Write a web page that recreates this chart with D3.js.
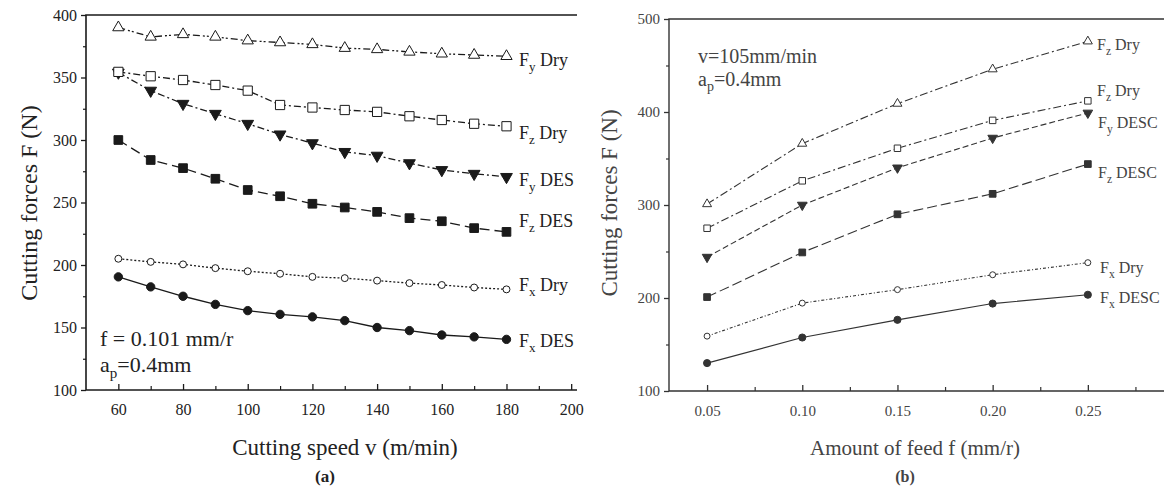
<!DOCTYPE html>
<html><head><meta charset="utf-8">
<script src="https://cdn.jsdelivr.net/npm/d3@7"></script>
<style>body{margin:0;background:#fff}svg{display:block}text{font-family:"Liberation Serif","Times New Roman",serif}</style>
</head><body>
<svg id="c" width="1174" height="493"></svg>
<script>
// ---------- Panel (a) data ----------
const speedA = [60,70,80,90,100,110,120,130,140,150,160,170,180];
const fyDryA = [390,382.5,384.5,382.5,379.5,378,376.5,373.5,372.5,370.5,369,368,367];
const fzDryA = [354.5,351,348,344,339.5,328,326,324,322.5,319,316,313,311];
const fyDesA = [354,339.5,329,321,313,304.5,297.5,290.5,287.5,281.5,276,273,270.5];
const fzDesA = [300,284,277.5,269,260,255,249,246,242.5,237.5,235,229.5,226.5];
const fxDryA = [205,202.5,200.5,197.5,195,193,190.5,189.5,187.5,185.5,184,182,180.5];
const fxDesA = [190.5,182.5,175,168.5,163.5,160.5,158.5,155.5,150,147.5,144,142.5,140.5];
const xTicksA = [60,80,100,120,140,160,180,200];
const yTicksA = [100,150,200,250,300,350,400];

// ---------- Panel (b) data ----------
const feedB = [0.05,0.10,0.15,0.20,0.25];
const fzDryB = [301,366,409,446,476];
const fzDry2B = [275,326,361,391,412];
const fyDesB = [244,300,340,372,399];
const fzDesB = [201,249,290,312,344];
const fxDryB = [159,194.5,209,225,238];
const fxDesB = [130,157.5,176.5,194,203.5];
const xTicksB = [0.05,0.10,0.15,0.20,0.25];
const yTicksB = [100,200,300,400,500];

const svg = d3.select("#c");
svg.append("rect").attr("width",1174).attr("height",493).attr("fill","#fff");

function panel(cfg){
  const g = svg.append("g");
  const x = d3.scaleLinear().domain(cfg.xd).range(cfg.xr);
  const y = d3.scaleLinear().domain(cfg.yd).range(cfg.yr);
  const col = cfg.col, tcol = cfg.tcol;
  const xa = g.append("g").attr("transform",`translate(0,${cfg.yr[0]})`)
    .call(d3.axisBottom(x).tickValues(cfg.xt).tickSize(-6).tickPadding(14).tickFormat(cfg.xf));
  xa.select(".domain").remove();
  xa.selectAll("line").attr("stroke",col).attr("stroke-width",1.3);
  xa.selectAll("text").attr("fill",tcol).attr("font-size",cfg.tfs).attr("font-family","Liberation Serif");
  const xm = g.append("g").attr("transform",`translate(0,${cfg.yr[0]})`)
    .call(d3.axisBottom(x).tickValues(cfg.xm).tickSize(-4).tickFormat(""));
  xm.select(".domain").remove();
  xm.selectAll("line").attr("stroke",col).attr("stroke-width",1.2);
  const ya = g.append("g").attr("transform",`translate(${cfg.xr[0]},0)`)
    .call(d3.axisLeft(y).tickValues(cfg.yt).tickSize(5).tickPadding(4));
  ya.select(".domain").remove();
  ya.selectAll("line").attr("stroke",col).attr("stroke-width",1.3);
  ya.selectAll("text").attr("fill",tcol).attr("font-size",cfg.tfs).attr("font-family","Liberation Serif");
  const ym = g.append("g").attr("transform",`translate(${cfg.xr[0]},0)`)
    .call(d3.axisLeft(y).tickValues(cfg.ym).tickSize(3).tickFormat(""));
  ym.select(".domain").remove();
  ym.selectAll("line").attr("stroke",col).attr("stroke-width",1.2);
  g.append("path")
    .attr("d",`M${cfg.xr[1]},${cfg.yr[1]}H${cfg.xr[0]}V${cfg.yr[0]}H${cfg.xr[1]}`)
    .attr("fill","none").attr("stroke",col).attr("stroke-width",cfg.fw);
  const line = d3.line().x(d=>x(d[0])).y(d=>y(d[1]));
  cfg.series.forEach(s=>{
    const pts = cfg.xs.map((v,i)=>[v,s.v[i]]);
    g.append("path").attr("d",line(pts)).attr("fill","none").attr("stroke",col)
      .attr("stroke-width",cfg.lw).attr("stroke-dasharray",s.dash||null);
    const sym = d3.symbol().type(s.sym).size(s.size);
    g.selectAll(null).data(pts).enter().append("path")
      .attr("d",sym)
      .attr("transform",d=>`translate(${x(d[0])},${y(d[1])})${s.rot?" rotate(180)":""}`)
      .attr("fill",s.fill?col:"#fff").attr("stroke",col).attr("stroke-width",1);
    const t = g.append("text").attr("x",s.lx).attr("y",s.ly).attr("fill",tcol).attr("font-size",cfg.lfs);
    t.append("tspan").text("F");
    t.append("tspan").attr("font-size",cfg.lfs*0.72).attr("dy",cfg.lfs*0.3).text(s.sub);
    t.append("tspan").attr("dy",-cfg.lfs*0.3).text(" "+s.name);
  });
  return {g,x,y};
}

// Panel (a)
panel({
  xd:[50,201.8], xr:[86,577], yd:[100,400], yr:[390,15],
  xt:xTicksA, xm:[70,90,110,130,150,170,190], yt:yTicksA, ym:[125,175,225,275,325,375],
  xf:d3.format("d"), col:"#1a1a1a", tcol:"#222", tfs:16, lfs:18, lw:1.3, fw:1.6,
  xs:speedA,
  series:[
    {v:fyDryA, sym:d3.symbolTriangle, size:55, fill:false, dash:"7,3,2,2,2,3", sub:"y", name:"Dry", lx:519, ly:66},
    {v:fyDesA, sym:d3.symbolTriangle, size:60, fill:true, rot:true, dash:"7,3,2,3", sub:"y", name:"DES", lx:519, ly:186},
    {v:fzDryA, sym:d3.symbolSquare, size:85, fill:false, dash:"7,3,2,3", sub:"z", name:"Dry", lx:519, ly:139},
    {v:fzDesA, sym:d3.symbolSquare, size:75, fill:true, dash:"10,5", sub:"z", name:"DES", lx:519, ly:227},
    {v:fxDryA, sym:d3.symbolCircle, size:38, fill:false, dash:"2,2", sub:"x", name:"Dry", lx:519, ly:291},
    {v:fxDesA, sym:d3.symbolCircle, size:55, fill:true, dash:null, sub:"x", name:"DES", lx:519, ly:347}
  ]
});

// Panel (b)
panel({
  xd:[0.03,0.29], xr:[669,1164], yd:[100,500], yr:[391,19],
  xt:xTicksB, xm:[0.075,0.125,0.175,0.225,0.275], yt:yTicksB, ym:[150,250,350,450],
  xf:d3.format(".2f"), col:"#333", tcol:"#444", tfs:15, lfs:16, lw:1.1, fw:1.4,
  xs:feedB,
  series:[
    {v:fzDryB, sym:d3.symbolTriangle, size:35, fill:false, dash:"8,3,2,3", sub:"z", name:"Dry", lx:1097, ly:50},
    {v:fzDry2B, sym:d3.symbolSquare, size:42, fill:false, dash:"8,3,2,3", sub:"z", name:"Dry", lx:1097, ly:96},
    {v:fyDesB, sym:d3.symbolTriangle, size:40, fill:true, rot:true, dash:"6,3", sub:"y", name:"DESC", lx:1098, ly:128},
    {v:fzDesB, sym:d3.symbolSquare, size:45, fill:true, dash:"10,4", sub:"z", name:"DESC", lx:1098, ly:178},
    {v:fxDryB, sym:d3.symbolCircle, size:28, fill:false, dash:"3,2,1,2", sub:"x", name:"Dry", lx:1100, ly:273},
    {v:fxDesB, sym:d3.symbolCircle, size:40, fill:true, dash:null, sub:"x", name:"DESC", lx:1100, ly:303}
  ]
});

// Titles & annotations (a)
svg.append("text").attr("x",345).attr("y",455).attr("text-anchor","middle")
  .attr("font-size",23).attr("fill","#222").text("Cutting speed v (m/min)");
svg.append("text").attr("transform","translate(37,203) rotate(-90)").attr("text-anchor","middle")
  .attr("font-size",24).attr("fill","#222").text("Cutting forces F (N)");
svg.append("text").attr("x",325).attr("y",482).attr("text-anchor","middle")
  .attr("font-size",17).attr("font-weight","bold").attr("fill","#222").text("(a)");
svg.append("text").attr("x",100).attr("y",346).attr("font-size",22).attr("fill","#222").text("f = 0.101 mm/r");
const ap1 = svg.append("text").attr("x",100).attr("y",372).attr("font-size",22).attr("fill","#222");
ap1.append("tspan").text("a");
ap1.append("tspan").attr("font-size",15).attr("dy",6).text("p");
ap1.append("tspan").attr("dy",-6).text("=0.4mm");

// Titles & annotations (b)
svg.append("text").attr("x",915).attr("y",455).attr("text-anchor","middle")
  .attr("font-size",21).attr("fill","#444").text("Amount of feed f (mm/r)");
svg.append("text").attr("transform","translate(617,203) rotate(-90)").attr("text-anchor","middle")
  .attr("font-size",23).attr("fill","#444").text("Cutting forces F (N)");
svg.append("text").attr("x",905).attr("y",482).attr("text-anchor","middle")
  .attr("font-size",16).attr("font-weight","bold").attr("fill","#444").text("(b)");
svg.append("text").attr("x",698).attr("y",63).attr("font-size",20).attr("fill","#444").text("v=105mm/min");
const ap2 = svg.append("text").attr("x",698).attr("y",86).attr("font-size",20).attr("fill","#444");
ap2.append("tspan").text("a");
ap2.append("tspan").attr("font-size",14).attr("dy",5).text("p");
ap2.append("tspan").attr("dy",-5).text("=0.4mm");
</script>
</body></html>
